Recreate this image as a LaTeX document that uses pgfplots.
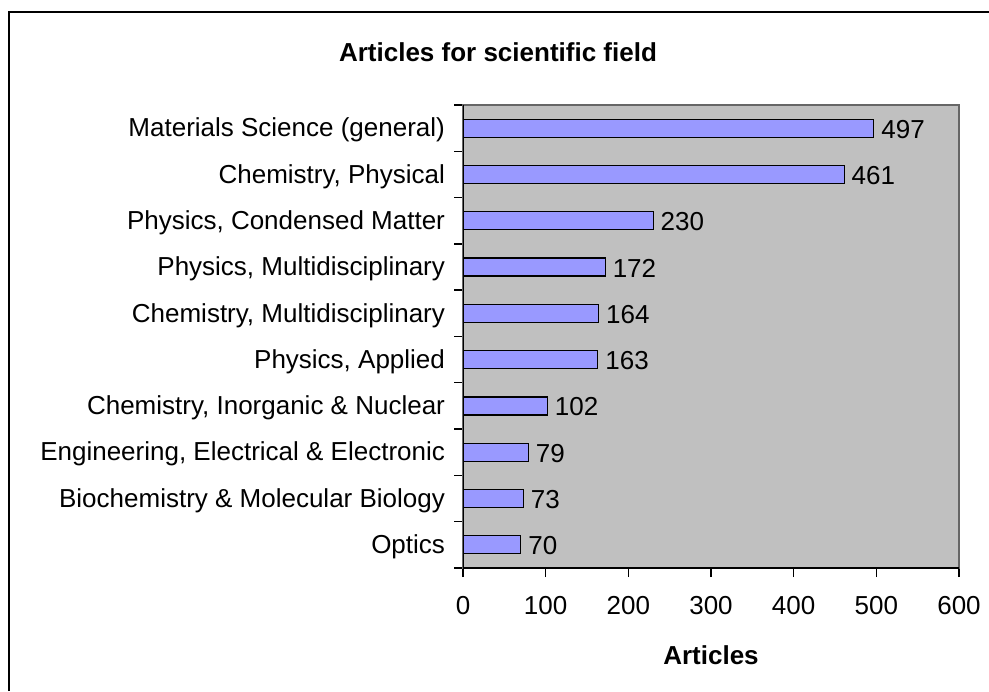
\documentclass[border=0pt]{standalone}
\usepackage{pgfplots}
\pgfplotsset{compat=1.18}
\usepackage{fontspec}
\setmainfont{Liberation Sans}
\definecolor{plotgray}{HTML}{C0C0C0}
\definecolor{barblue}{HTML}{9999FF}
\begin{document}
\fontsize{13}{15.6}\selectfont
\begin{tikzpicture}[x=1pt,y=1pt]
\useasboundingbox (0,0) rectangle (494.5,345.5);
\draw[line width=1pt] (4.5,0) -- (4.5,339.5) -- (494.5,339.5);
\node[font=\fontsize{13}{15.6}\selectfont\bfseries] at (249,319.5) {Articles for scientific field};
\begin{axis}[
  at={(231.5pt,61.5pt)}, anchor=south west,
  scale only axis, width=248pt, height=231.5pt,
  xbar, bar width=0.39,
  xmin=0, xmax=600, ymin=-0.5, ymax=9.5,
  xtick={0,100,...,600},
  ytick={0,...,9},
  yticklabels={Optics,Biochemistry \& Molecular Biology,{Engineering, Electrical \& Electronic},{Chemistry, Inorganic \& Nuclear},{Physics, Applied},{Chemistry, Multidisciplinary},{Physics, Multidisciplinary},{Physics, Condensed Matter},{Chemistry, Physical},Materials Science (general)},
  minor ytick={-0.5,0.5,...,9.5},
  major y tick style={draw=none},
  minor y tick style={black, line width=0.7pt},
  major x tick style={black, line width=0.7pt},
  major tick length=4.5pt, minor tick length=4.5pt,
  tick align=outside,
  xtick pos=bottom, ytick pos=left,
  axis line style={draw=gray!80!black, line width=0.6pt},
  axis background/.style={fill=plotgray},
  /pgf/number format/assume math mode=true,
  ticklabel style={font=\fontsize{13}{15.6}\selectfont},
  xticklabel style={yshift=-5pt},
  yticklabel style={yshift=-1pt},
  nodes near coords,
  nodes near coords style={font=\fontsize{13}{15.6}\selectfont, anchor=west, inner sep=3.5pt, yshift=-0.5pt},
  xlabel={\bfseries Articles},
  xlabel style={font=\fontsize{13}{15.6}\selectfont, yshift=-6.5pt},
]
\addplot[fill=barblue, draw=black, line width=0.6pt] coordinates {
 (70,0) (73,1) (79,2) (102,3) (163,4) (164,5) (172,6) (230,7) (461,8) (497,9)
};
\draw[black, line width=1pt] (axis cs:0,9.5) -- (axis cs:0,-0.5) -- (axis cs:600,-0.5);
\end{axis}
\end{tikzpicture}
\end{document}
